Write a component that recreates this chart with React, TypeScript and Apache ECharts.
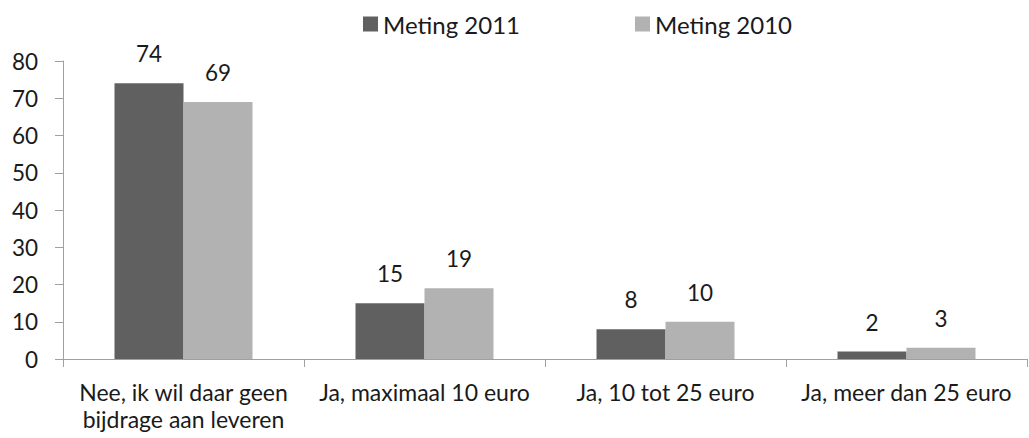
import React, { useEffect, useRef } from "react";
import * as echarts from "echarts";

const categories = [
  "Nee, ik wil daar geen\nbijdrage aan leveren",
  "Ja, maximaal 10 euro",
  "Ja, 10 tot 25 euro",
  "Ja, meer dan 25 euro",
];
const meting2011 = [74, 15, 8, 2];
const meting2010 = [69, 19, 10, 3];
const yTicks = { min: 0, max: 80, interval: 10 };

const FONT = "Lato";
const TEXT = "#1a1a1a";
const AXIS = "#a0a0a0";

export default function App() {
  const ref = useRef<HTMLDivElement>(null);
  useEffect(() => {
    if (!ref.current) return;
    const chart = echarts.init(ref.current, undefined, { renderer: "svg" });
    const labelStyle = {
      show: true,
      position: "top" as const,
      distance: 18,
      color: TEXT,
      fontFamily: FONT,
      fontSize: 22.5,
    };
    const legendBase = {
      top: 7,
      icon: "rect",
      itemWidth: 15,
      itemHeight: 15,
      itemGap: 6,
      textStyle: { fontFamily: FONT, fontSize: 24, color: TEXT },
    };
    chart.setOption({
      animation: false,
      textStyle: { fontFamily: FONT, color: TEXT },
      legend: [
        { ...legendBase, data: ["Meting 2011"], left: 358 },
        { ...legendBase, data: ["Meting 2010"], left: 630 },
      ],
      grid: { left: 63, right: 2, top: 61, bottom: 79, containLabel: false },
      xAxis: {
        type: "category",
        data: categories,
        boundaryGap: true,
        axisLine: { lineStyle: { color: AXIS, width: 1 } },
        axisTick: { show: true, length: 8, lineStyle: { color: AXIS }, alignWithLabel: false },
        axisLabel: {
          color: TEXT,
          fontFamily: FONT,
          fontSize: 23,
          lineHeight: 27.6,
          margin: 19,
          interval: 0,
        },
      },
      yAxis: {
        type: "value",
        min: yTicks.min,
        max: yTicks.max,
        interval: yTicks.interval,
        splitLine: { show: false },
        axisLine: { show: true, lineStyle: { color: AXIS, width: 1 } },
        axisTick: { show: true, length: 8, lineStyle: { color: AXIS } },
        axisLabel: { color: TEXT, fontFamily: FONT, fontSize: 22.5, margin: 25 },
      },
      series: [
        {
          name: "Meting 2011",
          type: "bar",
          data: meting2011,
          barWidth: 69,
          barGap: "0%",
          itemStyle: { color: "#606060" },
          label: labelStyle,
        },
        {
          name: "Meting 2010",
          type: "bar",
          data: meting2010,
          barWidth: 69,
          barGap: "0%",
          itemStyle: { color: "#b2b2b2" },
          label: labelStyle,
        },
      ],
    });
    return () => chart.dispose();
  }, []);
  return (
    <div
      ref={ref}
      style={{ position: "fixed", left: 0, top: 0, width: 1029, height: 438, background: "#fff" }}
    />
  );
}
